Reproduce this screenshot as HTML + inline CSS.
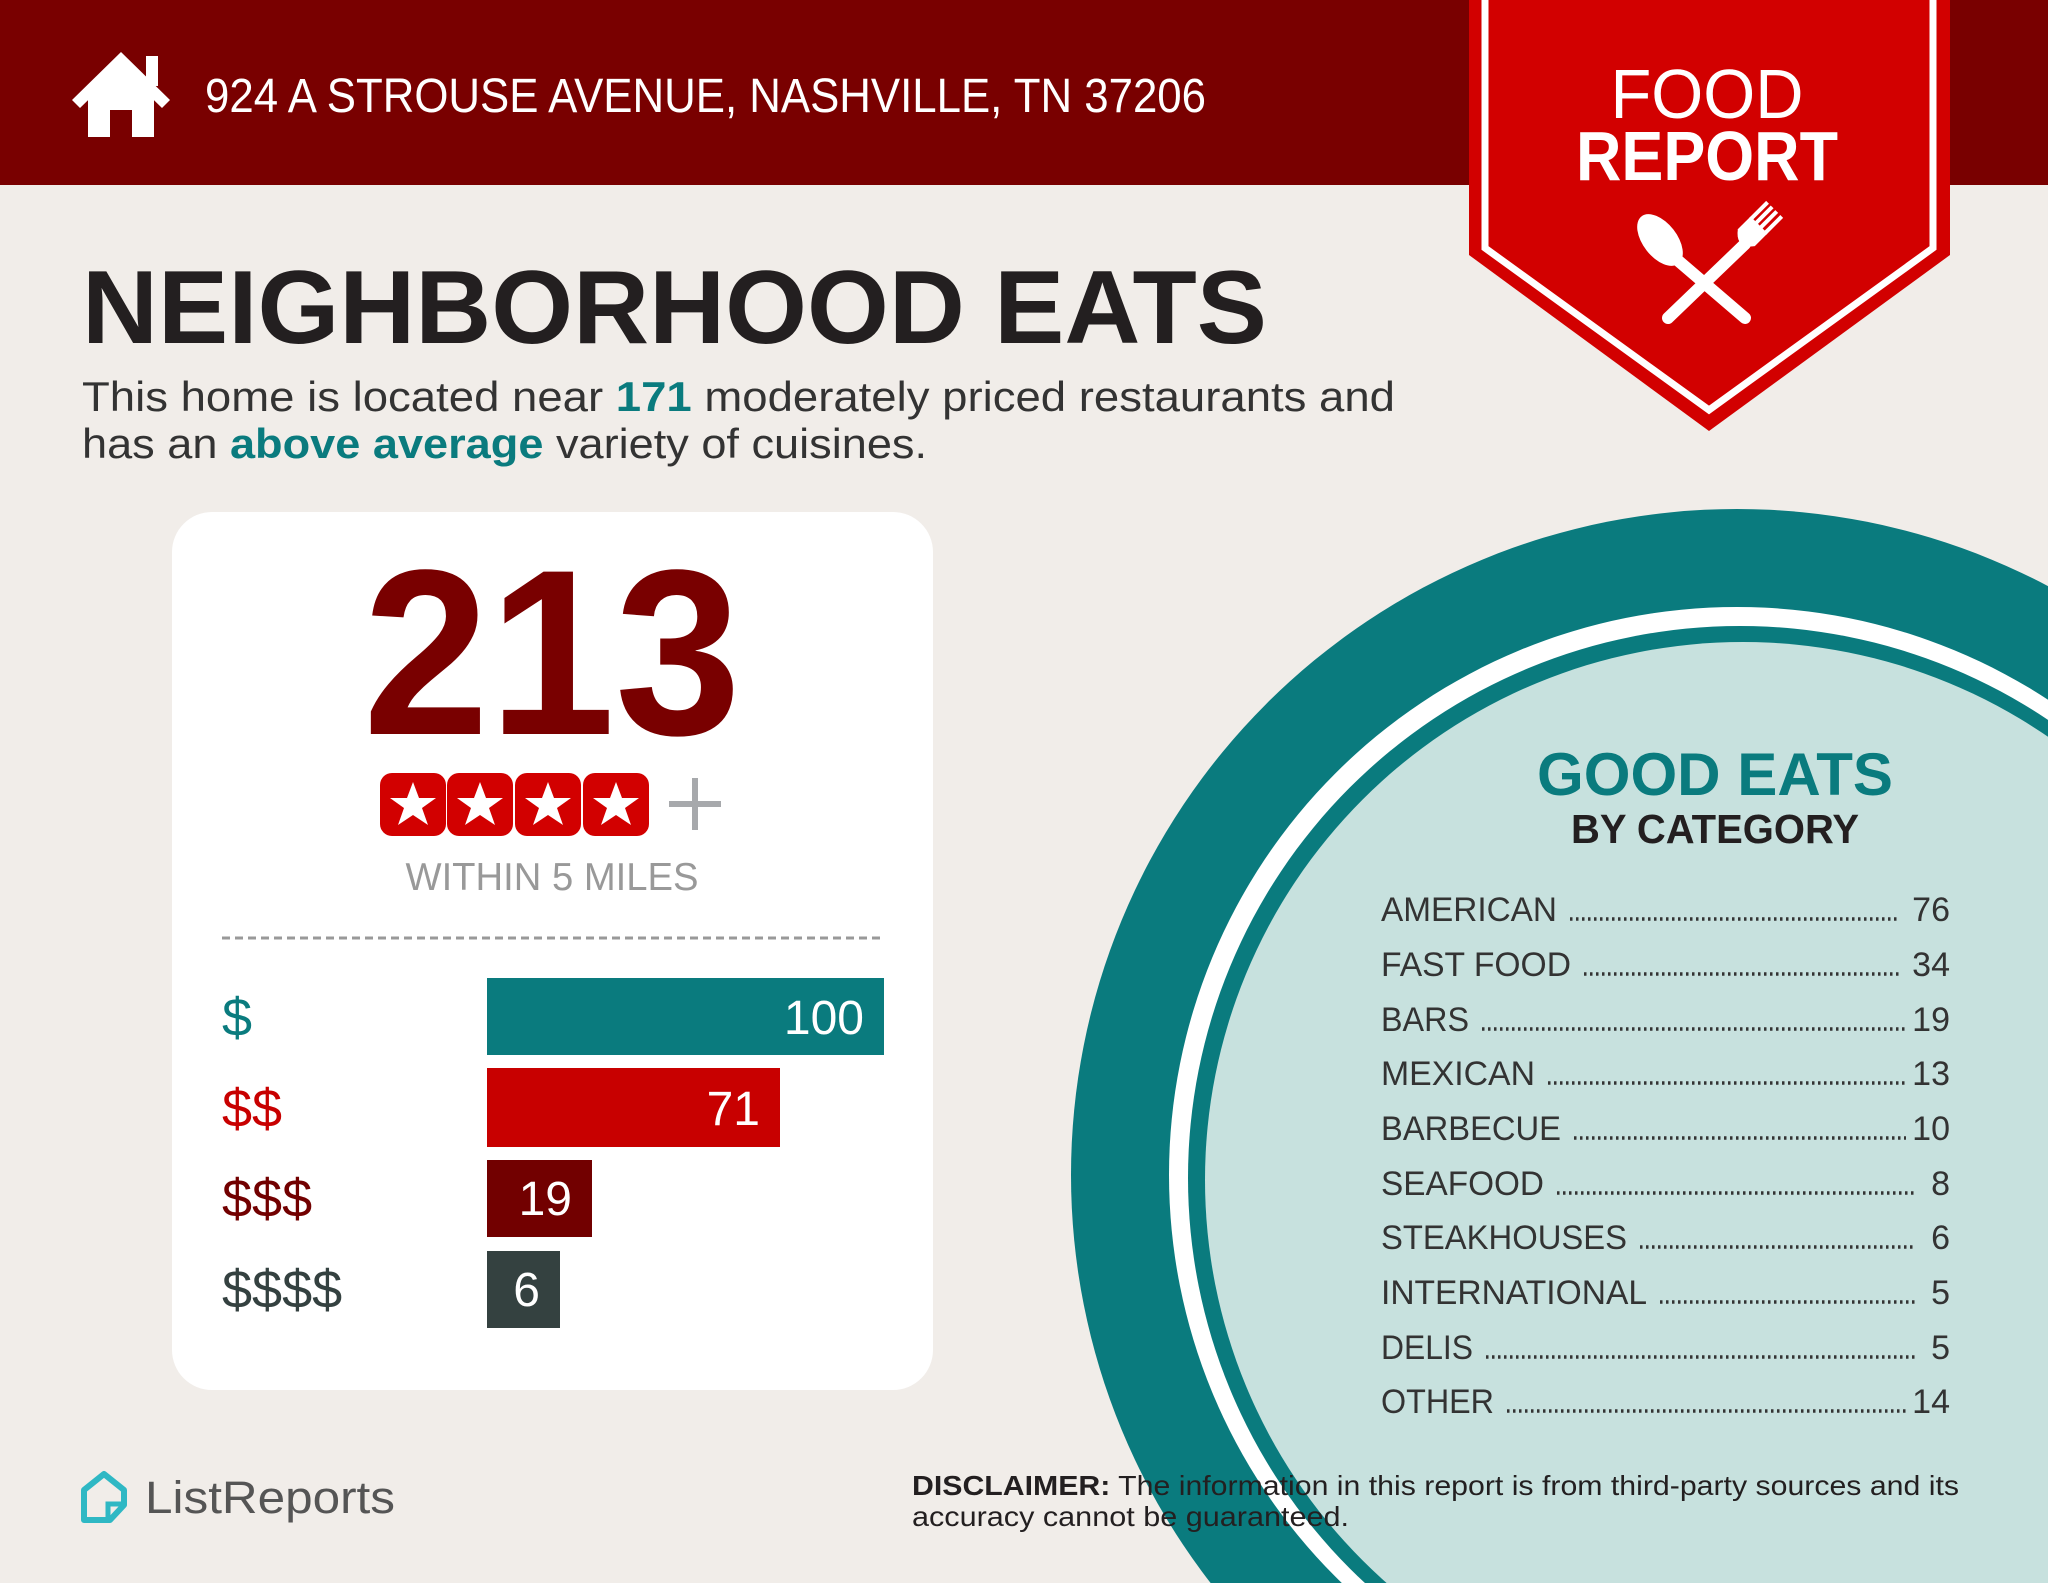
<!DOCTYPE html>
<html><head><meta charset="utf-8"><style>
html,body{margin:0;padding:0;background:#f1ede9;width:2048px;height:1583px;overflow:hidden;}
svg{display:block;}
text{font-family:"Liberation Sans",sans-serif;}
</style></head><body>
<svg width="2048" height="1583" viewBox="0 0 2048 1583" xmlns="http://www.w3.org/2000/svg">
<defs><clipPath id="pg"><rect width="2048" height="1583"/></clipPath></defs>
<g clip-path="url(#pg)">
<rect width="2048" height="1583" fill="#f1ede9"/>
<!-- header -->
<rect x="0" y="0" width="2048" height="185" fill="#790000"/>
<path d="M72 100 L121 52 L170 100 L162 108 L121 68 L80 108 Z" fill="#fff"/>
<rect x="146" y="56" width="12" height="30" fill="#fff"/>
<path d="M88 98 L121 66 L154 98 L154 137 L132 137 L132 110 L110 110 L110 137 L88 137 Z" fill="#fff"/>
<text x="205" y="112" font-size="48" fill="#fff" textLength="1001" lengthAdjust="spacingAndGlyphs">924 A STROUSE AVENUE, NASHVILLE, TN 37206</text>
<!-- ribbon -->
<path d="M1469 0 L1950 0 L1950 255 L1709 431 L1469 255 Z" fill="#d20000"/>
<path d="M1485 0 L1485 248 L1709 410 L1933 248 L1933 0" fill="none" stroke="#fff" stroke-width="7"/>
<path d="M1496 0 L1496 242 L1709 396 L1922 242 L1922 0 Z" fill="#d20000"/>
<text x="1707" y="118" font-size="70" fill="#fff" text-anchor="middle" textLength="193" lengthAdjust="spacingAndGlyphs">FOOD</text>
<text x="1707" y="180" font-size="70" font-weight="bold" fill="#fff" text-anchor="middle" textLength="262" lengthAdjust="spacingAndGlyphs">REPORT</text>
<!-- utensils -->
<g fill="#fff">
<ellipse cx="1660" cy="240" rx="17" ry="30" transform="rotate(-38 1660 240)"/>
<line x1="1668" y1="252" x2="1745" y2="318" stroke="#fff" stroke-width="12" stroke-linecap="round"/>
<line x1="1745" y1="244" x2="1668" y2="318" stroke="#fff" stroke-width="12" stroke-linecap="round"/>
<g transform="rotate(45 1752 232)">
<path d="M1740 222 L1764 222 L1764 240 Q1752 256 1740 240 Z"/>
<rect x="1740" y="200" width="4" height="24"/>
<rect x="1746.5" y="200" width="4" height="24"/>
<rect x="1753" y="200" width="4" height="24"/>
<rect x="1760" y="200" width="4" height="24"/>
</g>
</g>
<!-- title -->
<text x="82" y="343" font-size="104" font-weight="bold" fill="#231f20" textLength="1185" lengthAdjust="spacingAndGlyphs">NEIGHBORHOOD EATS</text>
<text x="82" y="411" font-size="42" fill="#333" textLength="1313" lengthAdjust="spacingAndGlyphs">This home is located near <tspan fill="#0a7b7e" font-weight="bold">171</tspan> moderately priced restaurants and</text>
<text x="82" y="458" font-size="42" fill="#333" textLength="845" lengthAdjust="spacingAndGlyphs">has an <tspan fill="#0a7b7e" font-weight="bold">above average</tspan> variety of cuisines.</text>
<!-- teal circle -->
<circle cx="1737" cy="1175" r="666" fill="#0a7b7e"/>
<circle cx="1737" cy="1175" r="568" fill="#fff"/>
<circle cx="1740" cy="1178" r="552" fill="#0a7b7e"/>
<circle cx="1743" cy="1180" r="538" fill="#c7e1de"/>
<text x="1715" y="795" font-size="60" font-weight="bold" fill="#0a7b7e" text-anchor="middle" textLength="356" lengthAdjust="spacingAndGlyphs">GOOD EATS</text>
<text x="1715" y="843" font-size="41" font-weight="bold" fill="#231f20" text-anchor="middle" textLength="288" lengthAdjust="spacingAndGlyphs">BY CATEGORY</text>
<g font-size="34" fill="#333">
<text x="1381" y="921" textLength="176" lengthAdjust="spacingAndGlyphs">AMERICAN</text><text x="1950" y="921" text-anchor="end">76</text>
<text x="1381" y="976" textLength="190" lengthAdjust="spacingAndGlyphs">FAST FOOD</text><text x="1950" y="976" text-anchor="end">34</text>
<text x="1381" y="1031" textLength="88" lengthAdjust="spacingAndGlyphs">BARS</text><text x="1950" y="1031" text-anchor="end">19</text>
<text x="1381" y="1085" textLength="154" lengthAdjust="spacingAndGlyphs">MEXICAN</text><text x="1950" y="1085" text-anchor="end">13</text>
<text x="1381" y="1140" textLength="180" lengthAdjust="spacingAndGlyphs">BARBECUE</text><text x="1950" y="1140" text-anchor="end">10</text>
<text x="1381" y="1195" textLength="163" lengthAdjust="spacingAndGlyphs">SEAFOOD</text><text x="1950" y="1195" text-anchor="end">8</text>
<text x="1381" y="1249" textLength="246" lengthAdjust="spacingAndGlyphs">STEAKHOUSES</text><text x="1950" y="1249" text-anchor="end">6</text>
<text x="1381" y="1304" textLength="266" lengthAdjust="spacingAndGlyphs">INTERNATIONAL</text><text x="1950" y="1304" text-anchor="end">5</text>
<text x="1381" y="1359" textLength="92" lengthAdjust="spacingAndGlyphs">DELIS</text><text x="1950" y="1359" text-anchor="end">5</text>
<text x="1381" y="1413" textLength="113" lengthAdjust="spacingAndGlyphs">OTHER</text><text x="1950" y="1413" text-anchor="end">14</text>
</g>
<g stroke="#333" stroke-width="3.5" stroke-dasharray="2.5 3.5">
<line x1="1570" y1="919" x2="1900" y2="919"/>
<line x1="1584" y1="974" x2="1900" y2="974"/>
<line x1="1482" y1="1029" x2="1906" y2="1029"/>
<line x1="1548" y1="1083" x2="1906" y2="1083"/>
<line x1="1574" y1="1138" x2="1906" y2="1138"/>
<line x1="1557" y1="1193" x2="1916" y2="1193"/>
<line x1="1640" y1="1247" x2="1916" y2="1247"/>
<line x1="1660" y1="1302" x2="1916" y2="1302"/>
<line x1="1486" y1="1357" x2="1916" y2="1357"/>
<line x1="1507" y1="1411" x2="1906" y2="1411"/>
</g>
<!-- card -->
<rect x="172" y="512" width="761" height="878" rx="40" fill="#fff"/>
<text x="552" y="734" font-size="236" font-weight="bold" fill="#790000" text-anchor="middle" textLength="378" lengthAdjust="spacingAndGlyphs">213</text>
<g>
<rect x="380" y="773" width="66" height="63" rx="12" fill="#d20000"/>
<rect x="447" y="773" width="66" height="63" rx="12" fill="#d20000"/>
<rect x="515" y="773" width="66" height="63" rx="12" fill="#d20000"/>
<rect x="583" y="773" width="66" height="63" rx="12" fill="#d20000"/>
<g fill="#fff">
<path id="st" d="M413 782 L419 798 L436 798 L422 808 L428 825 L413 815 L398 825 L404 808 L390 798 L407 798 Z"/>
<use href="#st" x="67"/><use href="#st" x="135"/><use href="#st" x="203"/>
</g>
<rect x="669" y="801" width="52" height="6" fill="#a7a9ac"/>
<rect x="692" y="778" width="6" height="52" fill="#a7a9ac"/>
</g>
<text x="552" y="890" font-size="39" fill="#999" text-anchor="middle" textLength="293" lengthAdjust="spacingAndGlyphs">WITHIN 5 MILES</text>
<line x1="222" y1="938" x2="884" y2="938" stroke="#999" stroke-width="3" stroke-dasharray="8 5"/>
<rect x="487" y="978" width="397" height="77" fill="#0a7b7e"/>
<rect x="487" y="1068" width="293" height="79" fill="#c80000"/>
<rect x="487" y="1160" width="105" height="77" fill="#720000"/>
<rect x="487" y="1251" width="73" height="77" fill="#344140"/>
<g font-size="48" fill="#fff" text-anchor="end">
<text x="864" y="1034">100</text>
<text x="760" y="1125">71</text>
<text x="572" y="1215">19</text>
<text x="540" y="1306">6</text>
</g>
<g font-size="54">
<text x="222" y="1036" fill="#0a7b7e">$</text>
<text x="222" y="1127" fill="#c80000">$$</text>
<text x="222" y="1217" fill="#720000">$$$</text>
<text x="222" y="1308" fill="#344140">$$$$</text>
</g>
<!-- logo -->
<path d="M84 1490 L104 1474 L124 1490 L124 1505 L110 1520 L84 1520 Z" fill="none" stroke="#2fb8c4" stroke-width="6" stroke-linejoin="round"/>
<path d="M108 1519 L108 1504 L124 1504" fill="none" stroke="#2fb8c4" stroke-width="5"/>
<text x="145" y="1513" font-size="45" fill="#555" textLength="250" lengthAdjust="spacingAndGlyphs">ListReports</text>
<!-- disclaimer -->
<text x="912" y="1495" font-size="28" fill="#231f20" textLength="1047" lengthAdjust="spacingAndGlyphs"><tspan font-weight="bold">DISCLAIMER:</tspan> The information in this report is from third-party sources and its</text>
<text x="912" y="1526" font-size="28" fill="#231f20" textLength="437" lengthAdjust="spacingAndGlyphs">accuracy cannot be guaranteed.</text>
</g>
</svg>
</body></html>
